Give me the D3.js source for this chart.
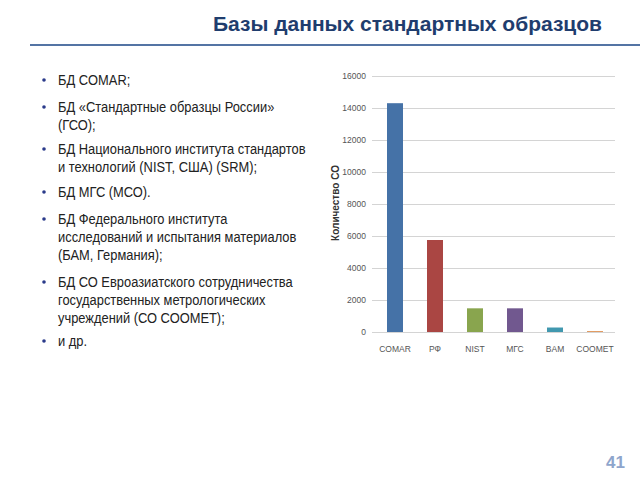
<!DOCTYPE html>
<html>
<head>
<meta charset="utf-8">
<script src="https://cdn.jsdelivr.net/npm/d3@7"></script>
<style>
  body { margin: 0; background: #fff; }
  svg { display: block; }
</style>
</head>
<body>
<svg id="slide" width="640" height="480"></svg>
<script>
// chart data
var categories = ["COMAR", "РФ", "NIST", "МГС", "BAM", "COOMET"];
var counts = [14300, 5750, 1480, 1480, 280, 50];
var barColors = ["#4572a7", "#aa4643", "#89a54e", "#71588f", "#4198af", "#db843d"];
var yTicks = [0, 2000, 4000, 6000, 8000, 10000, 12000, 14000, 16000];

// bullet list text, one array per bullet
var bullets = [
    ["БД COMAR;"],
    ["БД «Стандартные образцы России»", "(ГСО);"],
    ["БД Национального института стандартов", "и технологий (NIST, США) (SRM);"],
    ["БД МГС (МСО)."],
    ["БД Федерального института", "исследований и испытания материалов", "(БАМ, Германия);"],
    ["БД СО Евроазиатского сотрудничества", "государственных метрологических", "учреждений  (СО СООМЕТ);"],
    ["и др."]
];
var bulletTops = [80, 107, 149, 192, 219, 282, 341];

var svg = d3.select("#slide");

// ----------
// title and rule
svg.append("text")
    .attr("x", 602)
    .attr("y", 31)
    .attr("text-anchor", "end")
    .style("font-family", "Liberation Sans, Arial, sans-serif")
    .style("font-weight", "bold")
    .style("font-size", "21px")
    .style("fill", "#1f3d6e")
    .text("Базы данных стандартных образцов");

svg.append("line")
    .attr("x1", 30).attr("x2", 640)
    .attr("y1", 45).attr("y2", 45)
    .style("stroke", "#5474a4")
    .style("stroke-width", 2);

// ----------
// bullets (text squeezed horizontally, the original uses a narrow face)
var list = svg.append("g");
bullets.forEach(function(lines, i) {
    var top = bulletTops[i];
    list.append("circle")
        .attr("cx", 44)
        .attr("cy", top)
        .attr("r", 1.8)
        .style("fill", "#2a3a8a");
    lines.forEach(function(s, j) {
        list.append("text")
            .attr("transform", "translate(58," + (top + 5 + j * 18) + ") scale(0.86,1)")
            .style("font-family", "Liberation Sans, Arial, sans-serif")
            .style("font-size", "15px")
            .style("fill", "#222")
            .text(s);
    });
});

// ----------
// bar chart
var x = d3.scaleBand()
    .domain(categories)
    .range([375, 615])
    .paddingInner(0.6)
    .paddingOuter(0.3);

var y = d3.scaleLinear()
    .domain([0, 16000])
    .range([332, 76]);

var chart = svg.append("g");

chart.append("g")
    .selectAll("line")
    .data(yTicks)
    .join("line")
    .attr("x1", 372).attr("x2", 615)
    .attr("y1", function(d) { return y(d) + 0.5; })
    .attr("y2", function(d) { return y(d) + 0.5; })
    .style("stroke", "#d4d4d4")
    .style("stroke-width", 1);

var yAxis = chart.append("g")
    .attr("transform", "translate(372,0)")
    .call(d3.axisLeft(y).tickValues(yTicks).tickSize(0).tickPadding(6).tickFormat(d3.format("d")));
yAxis.select(".domain").remove();
yAxis.selectAll("text")
    .style("font-family", "Liberation Sans, Arial, sans-serif")
    .style("font-size", "8.5px")
    .style("fill", "#555");

chart.selectAll("rect")
    .data(counts)
    .join("rect")
    .attr("x", function(d, i) { return x(categories[i]); })
    .attr("width", x.bandwidth())
    .attr("y", function(d) { return y(d); })
    .attr("height", function(d) { return y(0) - y(d); })
    .style("fill", function(d, i) { return barColors[i]; });

var xAxis = chart.append("g")
    .attr("transform", "translate(0,332)")
    .call(d3.axisBottom(x).tickSize(0).tickPadding(14));
xAxis.select(".domain").remove();
xAxis.selectAll("text")
    .style("font-family", "Liberation Sans, Arial, sans-serif")
    .style("font-size", "8.5px")
    .style("fill", "#555");

chart.append("text")
    .attr("transform", "translate(339,203) rotate(-90)")
    .attr("text-anchor", "middle")
    .style("font-family", "Liberation Sans, Arial, sans-serif")
    .style("font-weight", "bold")
    .style("font-size", "10px")
    .style("fill", "#333")
    .text("Количество СО");

// ----------
// page number
svg.append("text")
    .attr("x", 625)
    .attr("y", 468)
    .attr("text-anchor", "end")
    .style("font-family", "Liberation Sans, Arial, sans-serif")
    .style("font-weight", "bold")
    .style("font-size", "17px")
    .style("fill", "#8ea5cc")
    .text("41");
</script>
</body>
</html>
